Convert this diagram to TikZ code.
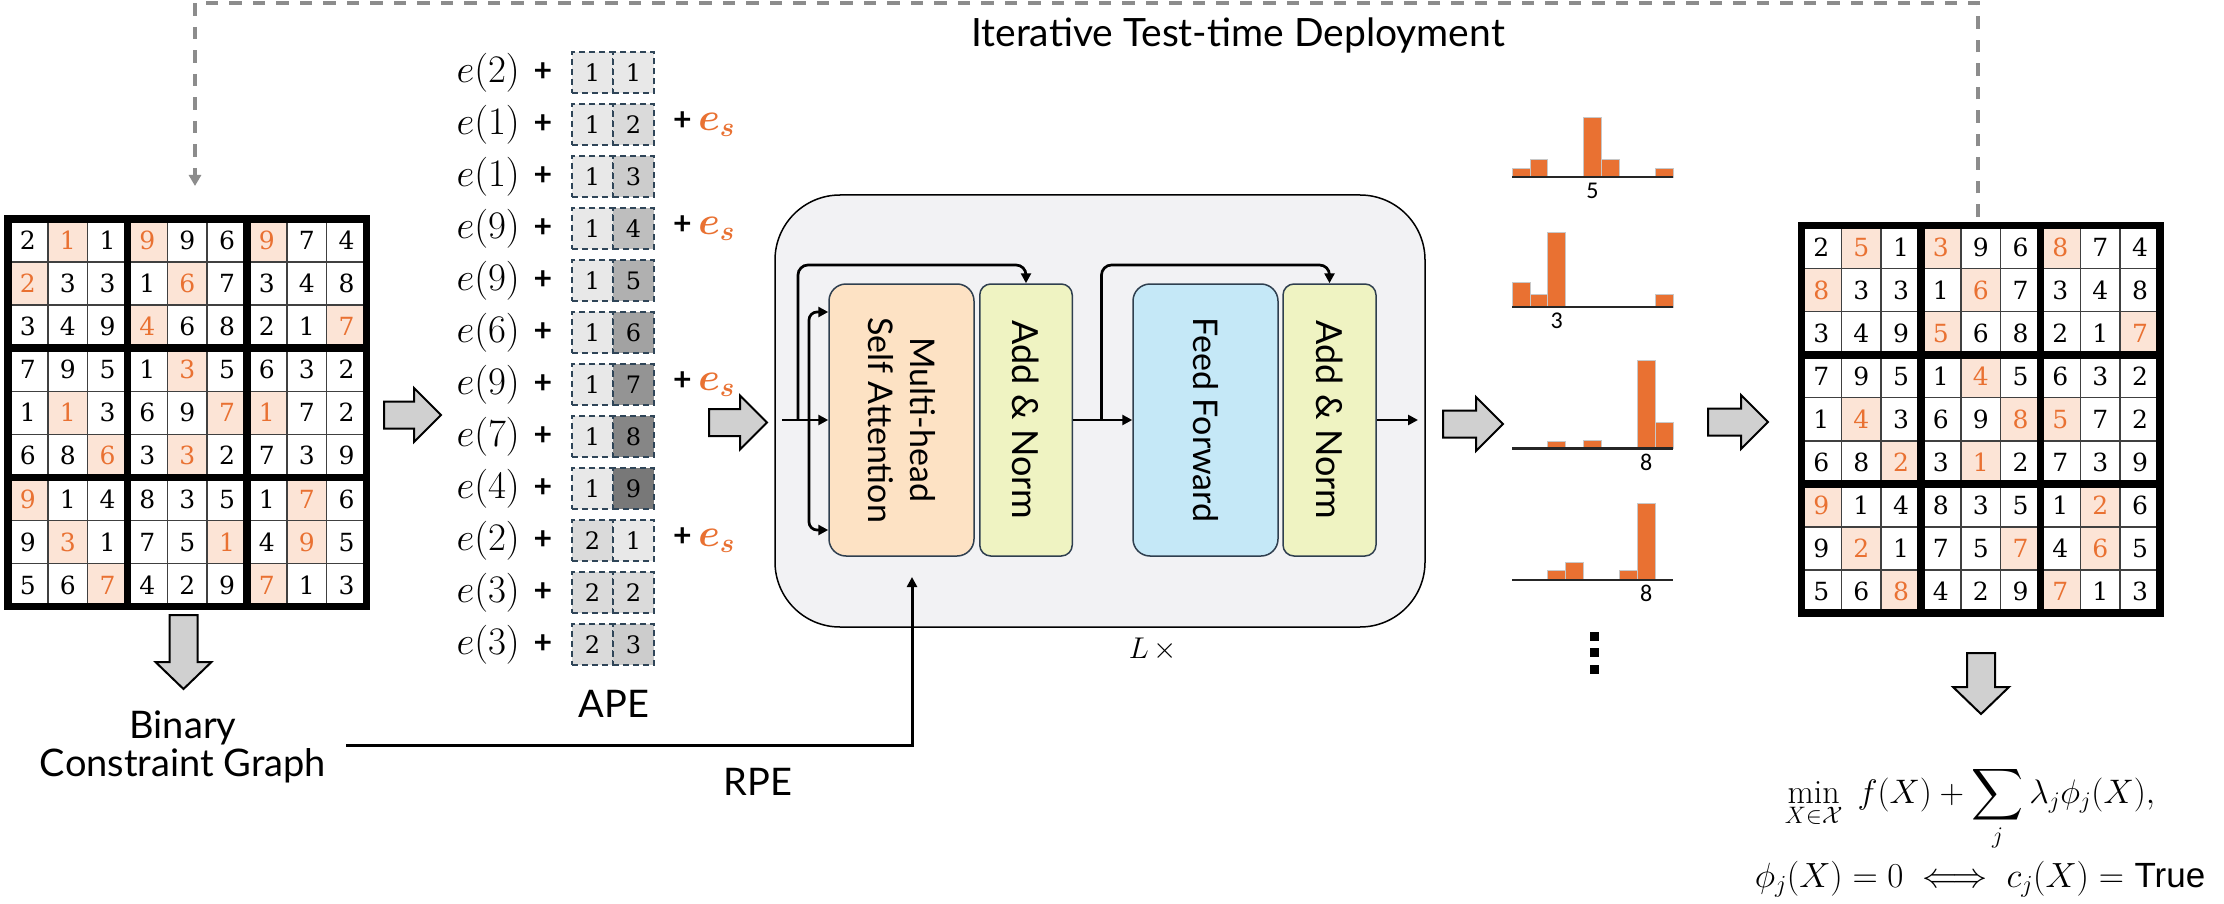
\RequirePackage{fix-cm}
\documentclass[tikz,border=0pt]{standalone}
\usepackage{amsmath}
\usepackage{bm}
\usepackage{fontspec}
\usetikzlibrary{arrows.meta,calc}
\newfontfamily\labelfont{Lato}
\newfontfamily\arialfont{Liberation Sans}
\newfontfamily\digitfont{DejaVu Serif}
\newfontfamily\smallnum{Carlito}
\newcommand\bigsum{\mathop{\vcenter{\hbox{\scalebox{1.45}{$\displaystyle\sum$}}}}\limits}

\definecolor{accent}{HTML}{E97132}
\definecolor{dk}{HTML}{000000}
\definecolor{or}{HTML}{E97132}
\definecolor{bgdk}{HTML}{FFFFFF}
\definecolor{bgor}{HTML}{FCE4D6}
\definecolor{blockbg}{HTML}{F2F2F4}
\definecolor{attnfill}{HTML}{FDE2C4}
\definecolor{normfill}{HTML}{EFF3C2}
\definecolor{fffill}{HTML}{C5E8F7}
\definecolor{boxline}{HTML}{2F3F4F}
\definecolor{cellline}{HTML}{2F4558}
\definecolor{arrowgray}{HTML}{D0D0D0}
\definecolor{loopgray}{HTML}{8C8C8C}
\definecolor{barline}{HTML}{C8C8C8}

\newcommand\cellw{39.83}
\newcommand\cellh{43.06}

% 9x9 grid: #1 name, #2/#3 top-left corner, #4 rows of digit/colour pairs
\newcommand\drawsudoku[4]{%
  \begin{scope}[shift={(#2,#3)}]
    \fill[white] (0,0) rectangle ({9*\cellw},{9*\cellh});
    \foreach \rowdata [count=\ri] in {#4} {
      \foreach \dg/\dc [count=\ci] in \rowdata {
        \fill[fill=bg\dc] ({(\ci-1)*\cellw},{(\ri-1)*\cellh}) rectangle ++(\cellw,\cellh);
        \node[digit, text=\dc] (#1-\ri-\ci) at ({(\ci-0.5)*\cellw},{(\ri-0.5)*\cellh}) {\dg};
      }
    }
    \foreach \k in {1,2,4,5,7,8} {
      \draw[thingrid] ({\k*\cellw},0) -- ({\k*\cellw},{9*\cellh});
      \draw[thingrid] (0,{\k*\cellh}) -- ({9*\cellw},{\k*\cellh});
    }
    \foreach \k in {3,6} {
      \draw[thickgrid] ({\k*\cellw},0) -- ({\k*\cellw},{9*\cellh});
      \draw[thickgrid] (0,{\k*\cellh}) -- ({9*\cellw},{\k*\cellh});
    }
    \draw[thickgrid] (0,0) rectangle ({9*\cellw},{9*\cellh});
  \end{scope}}

% grey block arrows
\newcommand\blockright[3]{% x start, y centre, tip x
  \draw[blockarrow] (#1,{#2-13.5}) -- ({#3-27},{#2-13.5}) -- ({#3-27},{#2-27}) -- (#3,#2)
    -- ({#3-27},{#2+27}) -- ({#3-27},{#2+13.5}) -- (#1,{#2+13.5}) -- cycle;}
\newcommand\blockdown[3]{% x centre, y start, tip y
  \draw[blockarrow] ({#1-14},#2) -- ({#1-14},{#3-27}) -- ({#1-28},{#3-27}) -- (#1,#3)
    -- ({#1+28},{#3-27}) -- ({#1+14},{#3-27}) -- ({#1+14},#2) -- cycle;}

% output distribution: #1 name, #2 baseline y, #3 bar heights, #4 label, #5 labelled bar
\newcommand\histo[5]{%
  \foreach \hh [count=\bi] in {#3} {
    \ifdim\hh pt>0pt
      \draw[bar] ({1512+17.9*(\bi-1)},#2) rectangle ++(17.9,{-\hh});
    \fi
  }
  \draw[histbase] (1512,#2) -- (1673,#2);
  \node[histlbl] (#1-lbl) at ({1512+17.9*(#5-0.5)},{#2+14}) {#4};}

\tikzset{
  digit/.style={inner sep=0pt, text height=18.3pt, text depth=0pt, font=\digitfont\fontsize{25}{25}\selectfont},
  thingrid/.style={line width=1.4pt, draw=black!75},
  thickgrid/.style={line width=7.7pt, draw=black, line join=miter},
  embtxt/.style={inner sep=0pt, font=\fontsize{39}{39}\selectfont},
  plustxt/.style={inner sep=0pt, font=\labelfont\bfseries\fontsize{32}{32}\selectfont},
  apecell/.style={draw=cellline, dash pattern=on 6pt off 4pt, line width=1.6pt,
    minimum width=41pt, minimum height=41pt, inner sep=0pt, text height=17.5pt,
    text depth=0pt, font=\digitfont\fontsize{24}{24}\selectfont},
  lbl/.style={inner sep=0pt, font=\labelfont\fontsize{38}{38}\selectfont},
  boxtxt/.style={inner sep=0pt, align=center, rotate=-90, font=\labelfont\fontsize{34}{42}\selectfont},
  normtxt/.style={boxtxt, font=\labelfont\fontsize{36}{42}\selectfont},
  layerbox/.style={draw=boxline, line width=1.5pt, minimum height=272pt},
  flow/.style={line width=2.7pt, -{Triangle[length=10pt,width=10pt]}},
  blockarrow/.style={draw=black, line width=2pt, fill=arrowgray, line join=miter},
  bar/.style={fill=accent, draw=barline, line width=0.8pt},
  histbase/.style={line width=2.5pt, draw=black!85},
  histlbl/.style={inner sep=0pt, text height=15.2pt, text depth=0pt, font=\smallnum\fontsize{24}{24}\selectfont},
  feedback/.style={draw=loopgray, line width=3.3pt, dash pattern=on 12.5pt off 11pt,
    -{Triangle[length=11pt,width=12pt]}},
}

\begin{document}
\begin{tikzpicture}[x=1pt, y=-1pt]
\useasboundingbox (0,0) rectangle (2224,904);
\fill[white] (0,0) rectangle (2224,904);

% ---------- input and solved grids ----------
\drawsudoku{L}{8}{219}{
 {2/dk,1/or,1/dk,9/or,9/dk,6/dk,9/or,7/dk,4/dk},
 {2/or,3/dk,3/dk,1/dk,6/or,7/dk,3/dk,4/dk,8/dk},
 {3/dk,4/dk,9/dk,4/or,6/dk,8/dk,2/dk,1/dk,7/or},
 {7/dk,9/dk,5/dk,1/dk,3/or,5/dk,6/dk,3/dk,2/dk},
 {1/dk,1/or,3/dk,6/dk,9/dk,7/or,1/or,7/dk,2/dk},
 {6/dk,8/dk,6/or,3/dk,3/or,2/dk,7/dk,3/dk,9/dk},
 {9/or,1/dk,4/dk,8/dk,3/dk,5/dk,1/dk,7/or,6/dk},
 {9/dk,3/or,1/dk,7/dk,5/dk,1/or,4/dk,9/or,5/dk},
 {5/dk,6/dk,7/or,4/dk,2/dk,9/dk,7/or,1/dk,3/dk}}

\drawsudoku{R}{1801.5}{225.5}{
 {2/dk,5/or,1/dk,3/or,9/dk,6/dk,8/or,7/dk,4/dk},
 {8/or,3/dk,3/dk,1/dk,6/or,7/dk,3/dk,4/dk,8/dk},
 {3/dk,4/dk,9/dk,5/or,6/dk,8/dk,2/dk,1/dk,7/or},
 {7/dk,9/dk,5/dk,1/dk,4/or,5/dk,6/dk,3/dk,2/dk},
 {1/dk,4/or,3/dk,6/dk,9/dk,8/or,5/or,7/dk,2/dk},
 {6/dk,8/dk,2/or,3/dk,1/or,2/dk,7/dk,3/dk,9/dk},
 {9/or,1/dk,4/dk,8/dk,3/dk,5/dk,1/dk,2/or,6/dk},
 {9/dk,2/or,1/dk,7/dk,5/dk,7/or,4/dk,6/or,5/dk},
 {5/dk,6/dk,8/or,4/dk,2/dk,9/dk,7/or,1/dk,3/dk}}

% ---------- iterative feedback loop ----------
\coordinate (fbstart) at (1978,217);
\coordinate (fbend) at (195,186);
\coordinate (fbtop) at (0,3);
\draw[feedback] (fbstart) -- (fbstart |- fbtop) -- (fbend |- fbtop) -- (fbend);
\node[lbl, anchor=base, font=\labelfont\fontsize{39}{39}\selectfont] (loop) at (1238,47) {Iterative Test-time Deployment};

% ---------- token embeddings with absolute positions ----------
\foreach \nv/\la/\ra/\se [count=\i] in {2/1/1/0,1/1/2/1,1/1/3/0,9/1/4/1,9/1/5/0,6/1/6/0,
    9/1/7/1,7/1/8/0,4/1/9/0,2/2/1/1,3/2/2/0,3/2/3/0} {
  \pgfmathsetmacro\yy{72.5+52*(\i-1)}
  \pgfmathsetmacro\fl{9+5.5*(\la-1)}
  \pgfmathsetmacro\fr{9+5.5*(\ra-1)}
  \node[embtxt, anchor=east] (emb\i) at (520,\yy) {$e(\nv)$};
  \node[plustxt] (plus\i) at (543,\yy) {+};
  \node[apecell, fill=black!\fl] (pa\i) at (592.5,\yy) {\la};
  \node[apecell, fill=black!\fr] (pb\i) at (633.5,\yy) {\ra};
  \ifnum\se=1
    \node[embtxt, anchor=west] (seg\i) at (673,\yy) {{\labelfont\bfseries\fontsize{32}{32}\selectfont +}\,\textcolor{accent}{$\bm{e}_{\bm{s}}$}};
  \fi
}
\node[lbl, anchor=base] (ape) at (614,717) {APE};

% ---------- transformer layer ----------
\node[draw=black, line width=1.5pt, fill=blockbg, rounded corners=65pt,
  minimum width=650pt, minimum height=432pt] (layer) at (1100,411) {};
\node[layerbox, fill=attnfill, rounded corners=17pt, minimum width=145pt] (mhsa) at (901.5,420) {};
\node[layerbox, fill=normfill, rounded corners=11pt, minimum width=92.5pt] (an1) at (1026,420) {};
\node[layerbox, fill=fffill, rounded corners=17pt, minimum width=145pt] (ff) at (1205.5,420) {};
\node[layerbox, fill=normfill, rounded corners=11pt, minimum width=93pt] (an2) at (1329.5,420) {};
\node[boxtxt] (mhsa-t) at (mhsa.center) {Multi-head\\Self Attention};
\node[normtxt] (an1-t) at (an1.center) {Add \& Norm};
\node[boxtxt] (ff-t) at (ff.center) {Feed Forward};
\node[normtxt] (an2-t) at (an2.center) {Add \& Norm};
\node[embtxt, font=\fontsize{30}{30}\selectfont] (lx) at (1153,649) {$L\,\times$};

\coordinate (inL) at (782,420);
\coordinate (j1) at (798,420);
\coordinate (j2) at (1101.5,420);
\coordinate (skipy) at (0,265);
\coordinate (qtop) at (809,312);
\coordinate (qbot) at (809,530);
\coordinate (outR) at (1418,420);

\draw[flow] (inL) -- (mhsa.west);
\draw[flow, rounded corners=10pt] (j1) -- (j1 |- skipy) -- (an1.north |- skipy) -- (an1.north);
\draw[line width=2.7pt, {Triangle[length=10pt,width=10pt]}-{Triangle[length=10pt,width=10pt]}, rounded corners=8pt]
  (mhsa.west |- qtop) -- (qtop) -- (qbot) -- (mhsa.west |- qbot);
\draw[flow] (an1.east) -- (ff.west);
\draw[flow, rounded corners=10pt] (j2) -- (j2 |- skipy) -- (an2.north |- skipy) -- (an2.north);
\draw[flow] (an2.east) -- (outR);

% ---------- relative positions from the constraint graph ----------
\blockdown{183.5}{615}{689}
\node[lbl, anchor=base, align=center] (bcg) at (183,776) {Binary\\Constraint Graph};
\coordinate (rpeS) at (346,745);
\coordinate (rpeE) at (912,577);
\draw[flow, line width=3pt] (rpeS) -| (rpeE);
\node[lbl, anchor=base] (rpe) at (758,795) {RPE};

% ---------- block arrows between stages ----------
\blockright{384}{415}{441}
\blockright{709}{422.5}{767}
\blockright{1443}{424}{1503}
\blockright{1708}{422}{1768}
\blockdown{1981}{653}{714}

% ---------- predicted distributions ----------
\histo{h1}{177}{8.5,17.4,0,0,60,17.4,0,0,8.5}{5}{5}
\histo{h2}{307}{25,13,75,0,0,0,0,0,13}{3}{3}
\histo{h3}{448.5}{0,0,7.4,0,8.5,0,0,88,26}{8}{8}
\histo{h4}{580}{0,0,9.2,17.8,0,0,9.2,77,0}{8}{8}
\foreach \dy in {631.5,648,664.5}
  \fill (1589.5,\dy) rectangle ++(9,9);

% ---------- objective ----------
\node[anchor=base, inner sep=0pt, font=\fontsize{34}{34}\selectfont] (obj) at (1970,803)
  {$\displaystyle \min_{X\in\mathcal{X}}\; f(X)+\bigsum_{j}\lambda_j\phi_j(X),$};
\node[anchor=base, inner sep=0pt, font=\fontsize{35}{35}\selectfont] (cons) at (1980,887)
  {$\phi_j(X)=0 \iff c_j(X)=$ {\arialfont True}};
\end{tikzpicture}
\end{document}
